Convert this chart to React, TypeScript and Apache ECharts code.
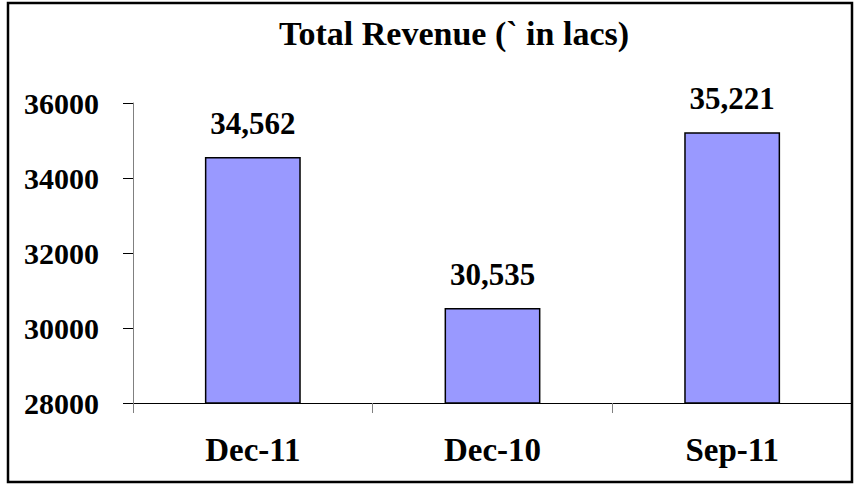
import React, { useEffect, useRef } from "react";
import * as echarts from "echarts";

const categories = ["Dec-11", "Dec-10", "Sep-11"];
const revenue = [34562, 30535, 35221];
const titleText = "Total Revenue (` in lacs)";

const FONT = "'Liberation Serif', 'Times New Roman', serif";

export default function App() {
  const ref = useRef<HTMLDivElement>(null);
  useEffect(() => {
    document.body.style.margin = "0";
    const chart = echarts.init(ref.current!, null, { renderer: "svg" });
    chart.setOption({
      animation: false,
      backgroundColor: "#ffffff",
      textStyle: { fontFamily: FONT },
      title: {
        text: titleText,
        left: 454,
        top: 16,
        padding: 0,
        textAlign: "center",
        textStyle: { fontFamily: FONT, fontWeight: "bold", fontSize: 34, color: "#000" },
      },
      graphic: [
        {
          type: "rect",
          shape: { x: 8, y: 3, width: 844, height: 479 },
          style: { fill: "none", stroke: "#000", lineWidth: 2.5 },
          silent: true,
          z: 100,
        },
      ],
      grid: { left: 133, right: 4, top: 103, bottom: 81, containLabel: false },
      xAxis: {
        type: "category",
        data: categories,
        axisLine: { show: true, lineStyle: { color: "#000", width: 1 } },
        axisTick: { show: true, alignWithLabel: false, length: 10, lineStyle: { color: "#808080" } },
        axisLabel: {
          margin: 30,
          fontFamily: FONT,
          fontWeight: "bold",
          fontSize: 33,
          color: "#000",
        },
      },
      yAxis: {
        type: "value",
        min: 28000,
        max: 36000,
        interval: 2000,
        splitLine: { show: false },
        axisLine: { show: true, lineStyle: { color: "#808080", width: 1 } },
        axisTick: { show: true, length: 10, lineStyle: { color: "#000" } },
        axisLabel: {
          margin: 34,
          fontFamily: FONT,
          fontWeight: "bold",
          fontSize: 30,
          color: "#000",
          formatter: (v: number) => String(v),
        },
      },
      series: [
        {
          type: "bar",
          data: revenue,
          barWidth: "40%",
          itemStyle: { color: "#9999FF", borderColor: "#000", borderWidth: 1.5 },
          label: {
            show: true,
            position: "top",
            distance: 18,
            fontFamily: FONT,
            fontWeight: "bold",
            fontSize: 31,
            color: "#000",
            formatter: (p: any) => p.value.toLocaleString("en-US"),
          },
        },
      ],
    });
    return () => chart.dispose();
  }, []);
  return <div ref={ref} style={{ width: 856, height: 484 }} />;
}
